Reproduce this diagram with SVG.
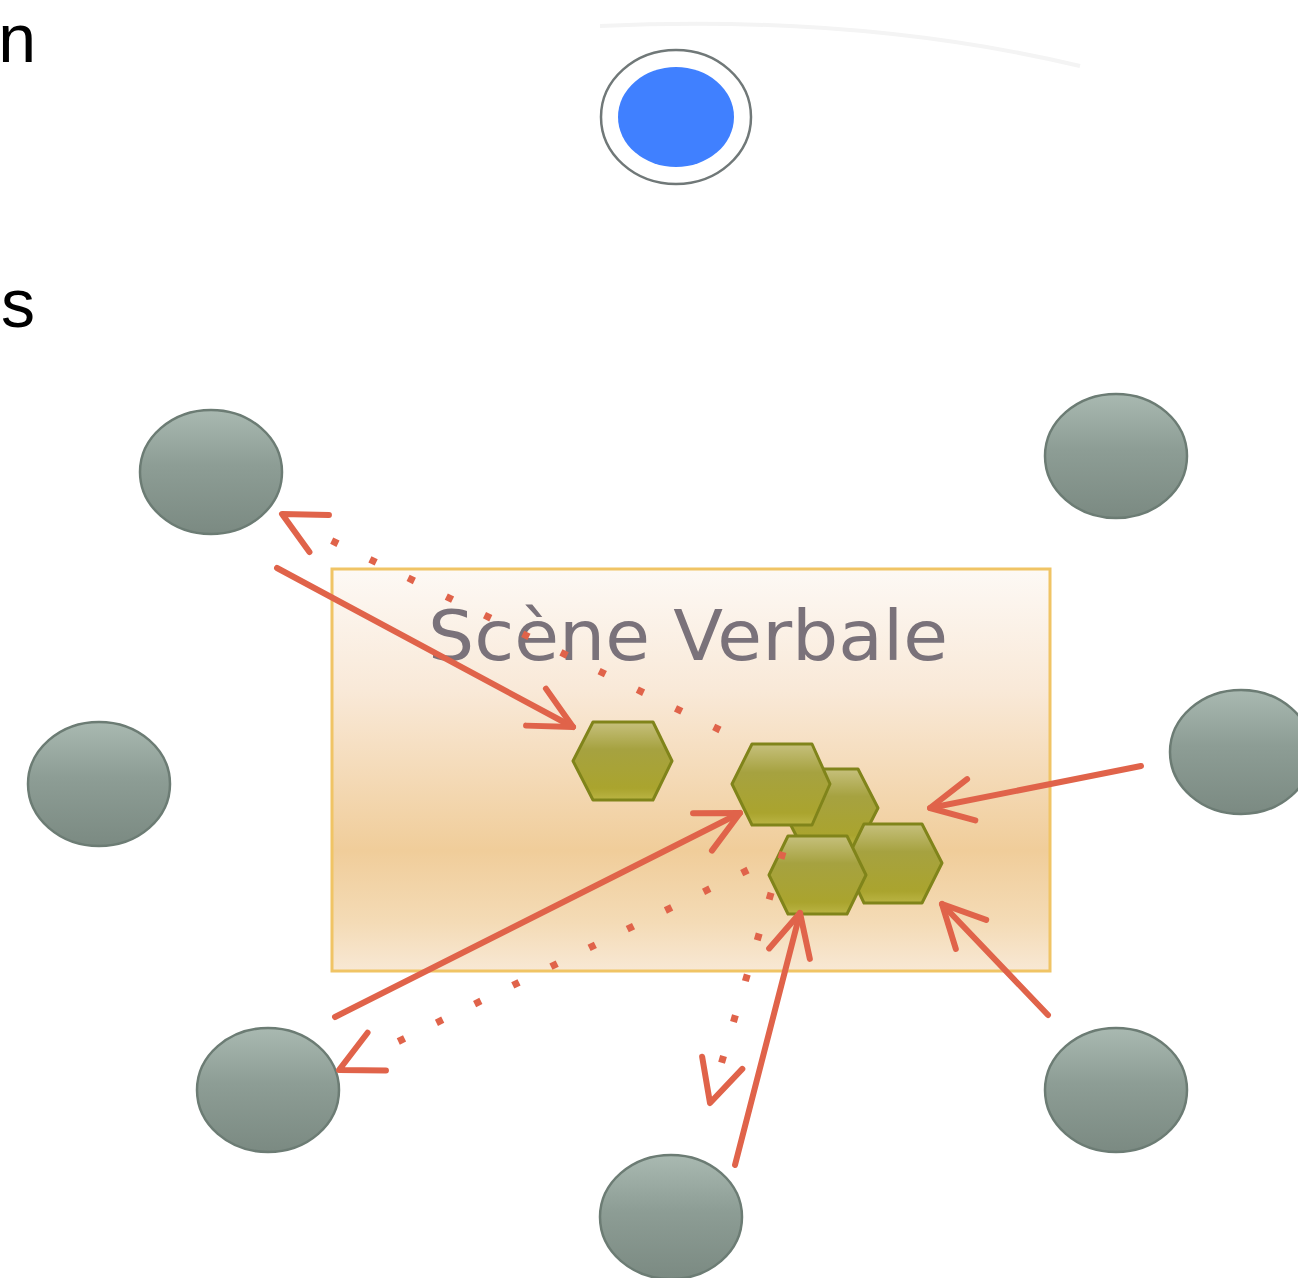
<svg xmlns="http://www.w3.org/2000/svg" width="1298" height="1278" viewBox="0 0 1298 1278">
<style>
.lbl{font-family:"Liberation Sans",Arial,sans-serif;font-size:68px;fill:#000}
.title{font-family:"DejaVu Sans","Liberation Sans",sans-serif;font-size:70px;fill:#7a727a}
.gray{fill:url(#gGray);stroke:#6c7c74;stroke-width:2.5}
.hex{fill:url(#gHex);stroke:#80841a;stroke-width:3;stroke-linejoin:round}
.conn{fill:none;stroke:#e0634a;stroke-width:6;stroke-linecap:round}
.dot{fill:none;stroke:#e0634a;stroke-width:7;stroke-linecap:butt;stroke-dasharray:7 35.5}
</style>
<defs>
<linearGradient id="gGray" x1="0" y1="0" x2="0" y2="1">
<stop offset="0" stop-color="#a9b9b1"/>
<stop offset="0.45" stop-color="#8d9d95"/>
<stop offset="1" stop-color="#7b8a82"/>
</linearGradient>
<linearGradient id="gHex" x1="0" y1="0" x2="0" y2="1">
<stop offset="0" stop-color="#c6c07c"/>
<stop offset="0.35" stop-color="#a6a240"/>
<stop offset="0.85" stop-color="#aaa42e"/>
<stop offset="1" stop-color="#bab444"/>
</linearGradient>
<linearGradient id="gBox" x1="0" y1="0" x2="0" y2="1">
<stop offset="0" stop-color="#fdf9f5"/>
<stop offset="0.3" stop-color="#f9e9d8"/>
<stop offset="0.7" stop-color="#f0cd9a"/>
<stop offset="0.88" stop-color="#f4dbb6"/>
<stop offset="1" stop-color="#f8e8d4"/>
</linearGradient>
<marker id="arr" markerUnits="userSpaceOnUse" markerWidth="60" markerHeight="60" viewBox="-50 -30 60 60" refX="0" refY="0" orient="auto" overflow="visible">
<path d="M -42 -21 L 0 0 L -42 21" fill="none" stroke="#e0634a" stroke-width="6" stroke-linecap="round" stroke-linejoin="round"/>
</marker>
</defs>
<rect width="1298" height="1278" fill="#fff"/>
<path d="M 600 26 Q 860 14 1080 66" fill="none" stroke="#f4f4f4" stroke-width="4"/>
<text class="lbl" x="36" y="62" text-anchor="end">n</text>
<text class="lbl" x="35" y="327" text-anchor="end">s</text>
<g id="blue-node">
<ellipse cx="676" cy="117" rx="75" ry="67" fill="#fff" stroke="#707878" stroke-width="2.5"/>
<ellipse cx="676" cy="117" rx="58" ry="50" fill="#4080ff"/>
</g>
<g id="scene-verbale">
<rect x="332" y="569" width="718" height="402" fill="url(#gBox)" stroke="#f0c465" stroke-width="3"/>
<text class="title" x="428" y="660" textLength="520" lengthAdjust="spacingAndGlyphs">Scène Verbale</text>
</g>
<g id="node-tl"><ellipse class="gray" cx="211" cy="472" rx="71" ry="62"/></g>
<g id="node-tr"><ellipse class="gray" cx="1116" cy="456" rx="71" ry="62"/></g>
<g id="node-l"><ellipse class="gray" cx="99" cy="784" rx="71" ry="62"/></g>
<g id="node-r"><ellipse class="gray" cx="1241" cy="752" rx="71" ry="62"/></g>
<g id="node-bl"><ellipse class="gray" cx="268" cy="1090" rx="71" ry="62"/></g>
<g id="node-br"><ellipse class="gray" cx="1116" cy="1090" rx="71" ry="62"/></g>
<g id="node-b"><ellipse class="gray" cx="671" cy="1217" rx="71" ry="62"/></g>
<g id="hex-1"><polygon class="hex" points="573,761 593,722 653,722 672,761 653,800 593,800"/></g>
<g id="hex-3"><polygon class="hex" points="782,808 802,769 858,769 878,808 858,847 802,847"/></g>
<g id="hex-2"><polygon class="hex" points="732,784 752,744 812,744 830,784 812,825 752,825"/></g>
<g id="hex-5"><polygon class="hex" points="845,863 864,824 922,824 942,863 922,903 864,903"/></g>
<g id="hex-4"><polygon class="hex" points="769,875 788,836 847,836 866,875 847,914 788,914"/></g>
<g id="connectors">
<line class="conn" x1="277" y1="568" x2="573" y2="727" marker-end="url(#arr)"/>
<line class="conn" x1="335" y1="1017" x2="740" y2="813" marker-end="url(#arr)"/>
<line class="conn" x1="1141" y1="766" x2="930" y2="808" marker-end="url(#arr)"/>
<line class="conn" x1="1048" y1="1015" x2="942" y2="904" marker-end="url(#arr)"/>
<line class="conn" x1="735" y1="1165" x2="800" y2="913" marker-end="url(#arr)"/>
<line class="dot" x1="720" y1="730" x2="318" y2="534"/>
<path class="conn" d="M 324 536 L 282 514" marker-end="url(#arr)" stroke-opacity="0"/>
<line class="dot" x1="748" y1="870" x2="385" y2="1048"/>
<path class="conn" d="M 378 1051 L 339 1070" marker-end="url(#arr)" stroke-opacity="0"/>
<line class="dot" x1="783" y1="852" x2="718" y2="1075"/>
<path class="conn" d="M 717 1080 L 710 1103" marker-end="url(#arr)" stroke-opacity="0"/>
</g>
</svg>
